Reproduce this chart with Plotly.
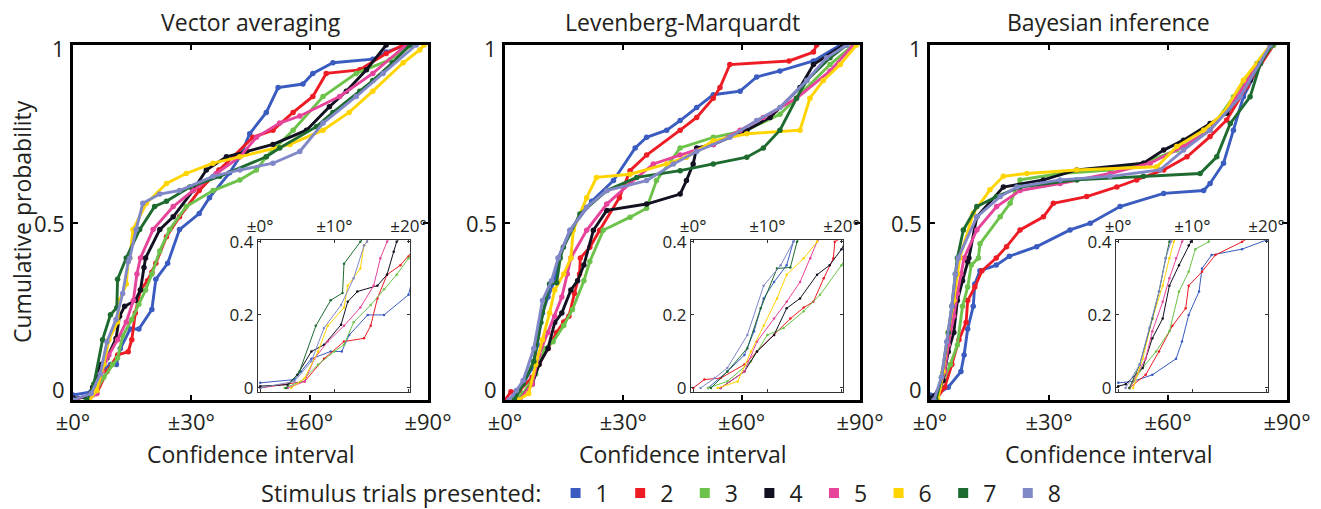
import plotly.graph_objects as go

# ---------------- data ----------------
SERIES_NAMES = ["1", "2", "3", "4", "5", "6", "7", "8"]
SERIES_COLORS = ["#3a5bbf", "#ed1c24", "#6cc24a", "#111122",
                 "#e6449a", "#ffd400", "#1e6b30", "#8088c8"]
PANEL_TITLES = ["Vector averaging", "Levenberg-Marquardt", "Bayesian inference"]
MAIN_XTICKS = [0, 30, 60, 90]
MAIN_XTEXT = ["±0°", "±30°", "±60°", "±90°"]
MAIN_YTICKS = [0, 0.5, 1]
MAIN_YTEXT = ["0", "0.5", "1"]
INSET_XTICKS = [0, 10, 20]
INSET_XTEXT = ["±0°", "±10°", "±20°"]
INSET_YTICKS = [0, 0.2, 0.4]
INSET_YTEXT = ["0", "0.2", "0.4"]

# Panel 1: Vector averaging
va_x1 = [0, 4.6, 5.5, 6.9, 9.5, 11, 12, 14.5, 16.7, 20, 21, 24, 27, 32, 34.6, 39.7, 42.3, 44.8, 49, 52, 58.3, 60.8, 65.9, 76, 79.4, 84.5]
va_y1 = [0.014, 0.023, 0.045, 0.08, 0.1, 0.1, 0.145, 0.2, 0.2, 0.255, 0.34, 0.385, 0.48, 0.525, 0.57, 0.64, 0.685, 0.75, 0.81, 0.88, 0.89, 0.92, 0.95, 0.96, 0.98, 1.0]
va_x2 = [0, 6, 8.6, 11.3, 14, 14.9, 15.8, 17.1, 18.9, 20, 21, 23.7, 27, 32, 37, 40.6, 45.6, 50.7, 55.8, 60.8, 64.2, 72.7, 79.4, 83.7]
va_y2 = [0, 0.018, 0.08, 0.127, 0.136, 0.17, 0.245, 0.31, 0.336, 0.36, 0.385, 0.46, 0.516, 0.59, 0.648, 0.685, 0.74, 0.76, 0.81, 0.855, 0.92, 0.93, 0.976, 1.0]
va_x3 = [3.3, 5.5, 7.8, 10, 11.3, 12.6, 14.9, 16.7, 18.4, 20, 22, 24.5, 28.7, 35.5, 42.3, 46.5, 49, 55.8, 63.4, 71.8, 80.3, 86]
va_y3 = [0, 0.018, 0.064, 0.1, 0.118, 0.18, 0.227, 0.27, 0.31, 0.355, 0.42, 0.48, 0.545, 0.59, 0.62, 0.648, 0.685, 0.76, 0.855, 0.92, 0.958, 1.0]
va_x4 = [0, 3.7, 5, 6.9, 8.6, 10.9, 11.8, 13.1, 15.8, 17.1, 18, 18.4, 22, 25.4, 30.4, 33.8, 38.9, 44, 50.7, 59.2, 65, 69.3, 74.4, 79.4]
va_y4 = [0.005, 0.009, 0.036, 0.1, 0.118, 0.173, 0.236, 0.264, 0.28, 0.31, 0.373, 0.4, 0.48, 0.516, 0.59, 0.648, 0.685, 0.70, 0.72, 0.76, 0.826, 0.87, 0.93, 1.0]
va_x5 = [3.7, 6, 7.3, 9.1, 11.3, 13.5, 15.3, 16.2, 17.1, 20.3, 25.4, 30.4, 36.3, 42.3, 46.5, 52.4, 57.5, 67.6, 76, 84.5]
va_y5 = [0, 0.018, 0.08, 0.127, 0.17, 0.22, 0.28, 0.355, 0.4, 0.48, 0.545, 0.59, 0.638, 0.685, 0.74, 0.78, 0.8, 0.855, 0.92, 1.0]
va_x6 = [4.2, 6, 7.8, 9.1, 11.3, 11.8, 13.5, 14, 14.4, 15.2, 18.6, 23.7, 28.7, 35.5, 42.3, 55, 63.4, 70, 76, 83.7, 87.9, 89]
va_y6 = [0, 0.027, 0.1, 0.17, 0.22, 0.28, 0.327, 0.39, 0.4, 0.48, 0.554, 0.61, 0.638, 0.667, 0.685, 0.72, 0.76, 0.81, 0.87, 0.95, 0.986, 1.0]
va_x7 = [3.5, 5.3, 7.5, 9.5, 11.1, 11.3, 13.5, 16.9, 20.7, 23.7, 29.6, 37.2, 49, 52.4, 61.7, 65.9, 72.7, 76, 81, 85.4]
va_y7 = [0, 0.045, 0.17, 0.24, 0.26, 0.34, 0.4, 0.48, 0.545, 0.56, 0.6, 0.63, 0.685, 0.71, 0.77, 0.81, 0.87, 0.9, 0.95, 1.0]
va_x8 = [0, 4.6, 6.9, 8.6, 10.9, 12.6, 14, 14.4, 16, 17.7, 22, 27, 35.5, 42.3, 50.7, 57.5, 63.4, 71.8, 78.6, 87]
va_y8 = [0, 0.018, 0.073, 0.164, 0.227, 0.3, 0.39, 0.4, 0.48, 0.554, 0.58, 0.59, 0.63, 0.648, 0.667, 0.70, 0.78, 0.855, 0.92, 1.0]

# Panel 2: Levenberg-Marquardt
lm_x1 = [2, 4.6, 6.9, 8.2, 9.5, 10.9, 12.6, 13.5, 16.5, 22, 27.5, 33, 35.9, 41, 44.4, 48.6, 52.8, 59.6, 63.8, 69.7, 78.2, 85]
lm_y1 = [0, 0.045, 0.09, 0.155, 0.245, 0.29, 0.336, 0.4, 0.478, 0.56, 0.618, 0.71, 0.74, 0.76, 0.787, 0.824, 0.86, 0.87, 0.91, 0.927, 0.955, 1.0]
lm_x2 = [0, 1.5, 3.7, 6.9, 8.6, 10.9, 13.1, 14.9, 16.2, 17.6, 18.9, 19.1, 21.5, 24, 29, 31.7, 35.9, 44.4, 48.6, 52.8, 54.5, 57, 72, 78.2, 79]
lm_y2 = [0, 0.023, 0.027, 0.064, 0.1, 0.145, 0.19, 0.22, 0.236, 0.3, 0.355, 0.4, 0.43, 0.478, 0.57, 0.646, 0.69, 0.76, 0.796, 0.85, 0.88, 0.945, 0.955, 0.98, 1.0]
lm_x3 = [2, 4.6, 7.8, 10, 12.2, 14.9, 17.1, 20, 21.5, 24.9, 31.7, 35.9, 38.4, 44.4, 52.8, 61.3, 69.7, 75.6, 82.4, 88.3]
lm_y3 = [0, 0.018, 0.073, 0.145, 0.164, 0.21, 0.255, 0.336, 0.39, 0.478, 0.515, 0.54, 0.618, 0.71, 0.74, 0.76, 0.805, 0.87, 0.945, 1.0]
lm_x4 = [3.7, 6.9, 8.6, 10.9, 12.6, 14.4, 16.7, 18.4, 20, 22.4, 25.8, 35.9, 44.4, 46, 47.7, 48.6, 52.8, 61.3, 67.2, 74.8, 78.2, 85.8]
lm_y4 = [0, 0.045, 0.1, 0.145, 0.218, 0.245, 0.31, 0.336, 0.38, 0.478, 0.534, 0.552, 0.58, 0.618, 0.665, 0.71, 0.72, 0.76, 0.796, 0.88, 0.945, 1.0]
lm_x5 = [3.7, 6.9, 8.6, 10.9, 12.6, 14.4, 15.8, 16.7, 20.7, 25.8, 31.7, 37.6, 44.4, 52.8, 59.6, 65.5, 73.9, 82.4, 88.3]
lm_y5 = [0, 0.045, 0.127, 0.19, 0.236, 0.29, 0.355, 0.4, 0.478, 0.552, 0.61, 0.665, 0.69, 0.72, 0.76, 0.796, 0.85, 0.927, 1.0]
lm_x6 = [3.3, 6, 7.8, 9.5, 11.3, 12.6, 14.9, 16.7, 17.3, 20.7, 23.2, 31.7, 41, 46, 52.8, 61.3, 74.8, 77.3, 80.7, 85, 89.1]
lm_y6 = [0, 0.018, 0.1, 0.17, 0.245, 0.31, 0.355, 0.4, 0.478, 0.57, 0.627, 0.636, 0.665, 0.684, 0.73, 0.75, 0.76, 0.85, 0.9, 0.945, 1.0]
lm_x7 = [2.4, 4.6, 7.3, 9.1, 11.3, 13.1, 14, 14.8, 19, 25.8, 33.4, 44.4, 52.8, 61.3, 65.5, 69.7, 73.9, 76.5, 82.4, 86.6]
lm_y7 = [0, 0.045, 0.109, 0.218, 0.327, 0.33, 0.4, 0.43, 0.524, 0.59, 0.627, 0.646, 0.665, 0.684, 0.71, 0.76, 0.85, 0.9, 0.964, 1.0]
lm_x8 = [1, 2.9, 4.6, 7.3, 9.5, 11.8, 13.5, 16.5, 20.7, 25.8, 35.9, 42.7, 48.6, 57, 63.8, 69.7, 76.5, 81.5, 86.6]
lm_y8 = [0, 0.027, 0.055, 0.145, 0.28, 0.336, 0.4, 0.478, 0.543, 0.59, 0.618, 0.665, 0.70, 0.74, 0.787, 0.824, 0.9, 0.964, 1.0]

# Panel 3: Bayesian inference
bi_x1 = [0, 2, 4.6, 7.8, 8.6, 9.5, 10.9, 11.3, 12.6, 16.7, 20, 26.9, 35.3, 40.4, 47.9, 58.9, 69, 70.6, 74, 76.5, 79, 83.3, 86.6]
bi_y1 = [0.014, 0.018, 0.036, 0.08, 0.127, 0.2, 0.264, 0.327, 0.364, 0.38, 0.405, 0.432, 0.479, 0.498, 0.545, 0.582, 0.59, 0.61, 0.667, 0.76, 0.854, 0.948, 1.0]
bi_x2 = [1.5, 3.7, 5.5, 7.3, 9.1, 9.5, 11.3, 13.1, 16.7, 19.3, 22.7, 28.6, 31.1, 39.5, 47.1, 52.1, 58.9, 64.8, 70.6, 74.8, 79.9, 86.6]
bi_y2 = [0, 0.036, 0.1, 0.17, 0.218, 0.28, 0.318, 0.364, 0.4, 0.432, 0.479, 0.516, 0.554, 0.573, 0.6, 0.62, 0.648, 0.685, 0.742, 0.789, 0.883, 1.0]
bi_x3 = [1.5, 3.3, 5.1, 6.9, 8.2, 9.5, 10.4, 12.2, 12.6, 17.7, 20.2, 22.7, 32.8, 45.4, 53.8, 62.2, 70.6, 76.5, 82.4, 86.6]
bi_y3 = [0, 0.055, 0.1, 0.155, 0.264, 0.318, 0.38, 0.4, 0.44, 0.516, 0.554, 0.62, 0.638, 0.648, 0.667, 0.704, 0.76, 0.854, 0.948, 1.0]
bi_x4 = [0, 1, 3.3, 4.6, 6, 6.9, 8.2, 9.5, 9.8, 11.8, 18.5, 28.6, 37, 53.8, 58.9, 63.9, 70.6, 74.8, 80.7, 85.8]
bi_y4 = [0.005, 0.01, 0.055, 0.136, 0.19, 0.28, 0.336, 0.39, 0.4, 0.516, 0.6, 0.62, 0.648, 0.667, 0.704, 0.732, 0.779, 0.808, 0.901, 1.0]
bi_x5 = [1.5, 3.7, 4.6, 6, 6.9, 7.8, 8.6, 11.8, 16.8, 22.7, 32.8, 45.4, 55.5, 63.9, 70.6, 77.4, 85.8]
bi_y5 = [0, 0.08, 0.155, 0.236, 0.3, 0.355, 0.4, 0.479, 0.545, 0.59, 0.61, 0.638, 0.667, 0.714, 0.76, 0.854, 1.0]
bi_x6 = [2, 3.3, 4.6, 6, 6.9, 7.5, 10.9, 15.1, 18.5, 24.4, 37, 57.2, 62.2, 69, 74, 79, 85.8]
bi_y6 = [0, 0.08, 0.19, 0.28, 0.355, 0.4, 0.526, 0.592, 0.63, 0.638, 0.648, 0.657, 0.714, 0.76, 0.808, 0.901, 1.0]
bi_x7 = [1.5, 2.9, 4.6, 5.5, 6.4, 6.9, 8.4, 11.8, 16.8, 22.7, 37, 53.8, 68.1, 72.3, 75.7, 80.7, 83.3, 86.2]
bi_y7 = [0, 0.064, 0.19, 0.264, 0.355, 0.4, 0.479, 0.545, 0.573, 0.6, 0.62, 0.63, 0.638, 0.685, 0.779, 0.854, 0.948, 1.0]
bi_x8 = [1, 2.9, 4.2, 5.5, 6.4, 7.1, 11.8, 17.7, 21.9, 32.8, 45.4, 58, 63.9, 70.6, 78.2, 85.8]
bi_y8 = [0, 0.064, 0.164, 0.264, 0.355, 0.4, 0.516, 0.573, 0.6, 0.62, 0.63, 0.648, 0.704, 0.76, 0.854, 1.0]

PANELS = [
    [(va_x1, va_y1), (va_x2, va_y2), (va_x3, va_y3), (va_x4, va_y4),
     (va_x5, va_y5), (va_x6, va_y6), (va_x7, va_y7), (va_x8, va_y8)],
    [(lm_x1, lm_y1), (lm_x2, lm_y2), (lm_x3, lm_y3), (lm_x4, lm_y4),
     (lm_x5, lm_y5), (lm_x6, lm_y6), (lm_x7, lm_y7), (lm_x8, lm_y8)],
    [(bi_x1, bi_y1), (bi_x2, bi_y2), (bi_x3, bi_y3), (bi_x4, bi_y4),
     (bi_x5, bi_y5), (bi_x6, bi_y6), (bi_x7, bi_y7), (bi_x8, bi_y8)],
]

# ---------------- layout geometry ----------------
W, H = 1321, 509
FONT = "Open Sans"
FS = 23
TICK_FS = 22


def fx(px):
    return px / W


def fy(py):
    return 1 - py / H


MAIN_X = [(73, 428), (505, 860), (930, 1287)]
MAIN_Y = (45, 400)
INSET_X = [(258, 410), (691, 843), (1116, 1268)]
INSET_Y = (240, 392)
YLABEL_SHIFT = [11, 0, -3]   # pull the end labels inward, as in the original

fig = go.Figure()

for p in range(3):
    main_id = p + 1
    for s, (xs, ys) in enumerate(PANELS[p]):
        fig.add_trace(go.Scatter(
            x=xs, y=ys, mode="lines+markers",
            line=dict(color=SERIES_COLORS[s], width=2.9),
            marker=dict(color=SERIES_COLORS[s], size=5.5),
            showlegend=False, hoverinfo="skip",
            xaxis="x" if main_id == 1 else f"x{main_id}",
            yaxis="y" if main_id == 1 else f"y{main_id}",
        ))
for p in range(3):
    inset_id = p + 4
    for s, (xs, ys) in enumerate(PANELS[p]):
        fig.add_trace(go.Scatter(
            x=xs, y=ys, mode="lines+markers",
            line=dict(color=SERIES_COLORS[s], width=1),
            marker=dict(color=SERIES_COLORS[s], size=2.5),
            showlegend=False, hoverinfo="skip",
            xaxis=f"x{inset_id}", yaxis=f"y{inset_id}",
        ))

# legend entries
for s in range(8):
    fig.add_trace(go.Scatter(
        x=[None], y=[None], mode="markers", name=SERIES_NAMES[s],
        marker=dict(symbol="square", size=10, color=SERIES_COLORS[s]),
        showlegend=True, xaxis="x", yaxis="y",
    ))

layout = dict(
    width=W, height=H,
    margin=dict(l=0, r=0, t=0, b=0, autoexpand=False),
    paper_bgcolor="white", plot_bgcolor="white",
    font=dict(family=FONT, color="#231f20", size=FS),
    showlegend=True,
    legend=dict(
        orientation="h", xref="container", yref="container",
        x=fx(259), xanchor="left", y=fy(493), yanchor="middle",
        title=dict(text="Stimulus trials presented: ", side="left",
                   font=dict(size=23.6, family=FONT)),
        font=dict(size=FS, family=FONT), itemwidth=30,
        entrywidth=19.6, entrywidthmode="pixels",
        bgcolor="rgba(0,0,0,0)",
    ),
    annotations=[],
)

for p in range(3):
    i = p + 1
    kx = "xaxis" if i == 1 else f"xaxis{i}"
    ky = "yaxis" if i == 1 else f"yaxis{i}"
    yref = "y" if i == 1 else f"y{i}"
    xmid = (fx(MAIN_X[p][0]) + fx(MAIN_X[p][1])) / 2
    layout[kx] = dict(
        domain=[fx(MAIN_X[p][0]), fx(MAIN_X[p][1])], range=[0, 90],
        anchor=yref,
        tickvals=MAIN_XTICKS, ticktext=MAIN_XTEXT,
        ticks="inside", ticklen=5, tickwidth=1.5, tickcolor="black",
        showline=True, linewidth=2.5, linecolor="black", mirror="ticks",
        showgrid=False, zeroline=False, fixedrange=True,
        tickfont=dict(size=TICK_FS, family=FONT), ticklabelstandoff=1,
    )
    layout[ky] = dict(
        domain=[fy(MAIN_Y[1]), fy(MAIN_Y[0])], range=[0, 1],
        anchor="x" if i == 1 else f"x{i}",
        tickvals=MAIN_YTICKS,
        ticks="inside", ticklen=5, tickwidth=1.5, tickcolor="black",
        showline=True, linewidth=2.5, linecolor="black", mirror="ticks",
        showgrid=False, zeroline=False, fixedrange=True, showticklabels=False,
    )
    # y tick labels, placed on the axis scale
    for v, t, sh in zip(MAIN_YTICKS, MAIN_YTEXT, YLABEL_SHIFT):
        layout["annotations"].append(dict(
            text=t, x=fx(MAIN_X[p][0]), y=v, xref="paper", yref=yref,
            xanchor="right", yanchor="middle", xshift=-6, yshift=sh,
            showarrow=False, font=dict(size=TICK_FS, family=FONT),
        ))
    layout["annotations"].append(dict(
        text=PANEL_TITLES[p], x=xmid, y=fy(22), xref="paper", yref="paper",
        showarrow=False, xanchor="center", yanchor="middle",
        font=dict(size=FS, family=FONT),
    ))
    layout["annotations"].append(dict(
        text="Confidence interval", x=xmid, y=fy(454), xref="paper", yref="paper",
        showarrow=False, xanchor="center", yanchor="middle",
        font=dict(size=FS, family=FONT),
    ))

layout["annotations"].append(dict(
    text="Cumulative probability", x=fx(22), y=fy(222), xref="paper", yref="paper",
    showarrow=False, textangle=-90, xanchor="center", yanchor="middle",
    font=dict(size=FS, family=FONT),
))

for p in range(3):
    i = p + 4
    layout[f"xaxis{i}"] = dict(
        domain=[fx(INSET_X[p][0]), fx(INSET_X[p][1])], range=[-0.3, 20.2],
        anchor=f"y{i}", side="top",
        tickvals=INSET_XTICKS, ticktext=INSET_XTEXT,
        ticks="inside", ticklen=3, tickwidth=1, tickcolor="#333",
        showline=True, linewidth=1.2, linecolor="#333", mirror="ticks",
        showgrid=False, zeroline=False, fixedrange=True,
        tickfont=dict(size=17, family=FONT),
    )
    layout[f"yaxis{i}"] = dict(
        domain=[fy(INSET_Y[1]), fy(INSET_Y[0])], range=[-0.011, 0.405],
        anchor=f"x{i}",
        tickvals=INSET_YTICKS, ticktext=INSET_YTEXT,
        ticks="inside", ticklen=3, tickwidth=1, tickcolor="#333",
        showline=True, linewidth=1.2, linecolor="#333", mirror="ticks",
        showgrid=False, zeroline=False, fixedrange=True,
        tickfont=dict(size=17, family=FONT),
    )

fig.update_layout(**layout)
fig.write_html("out.html")
